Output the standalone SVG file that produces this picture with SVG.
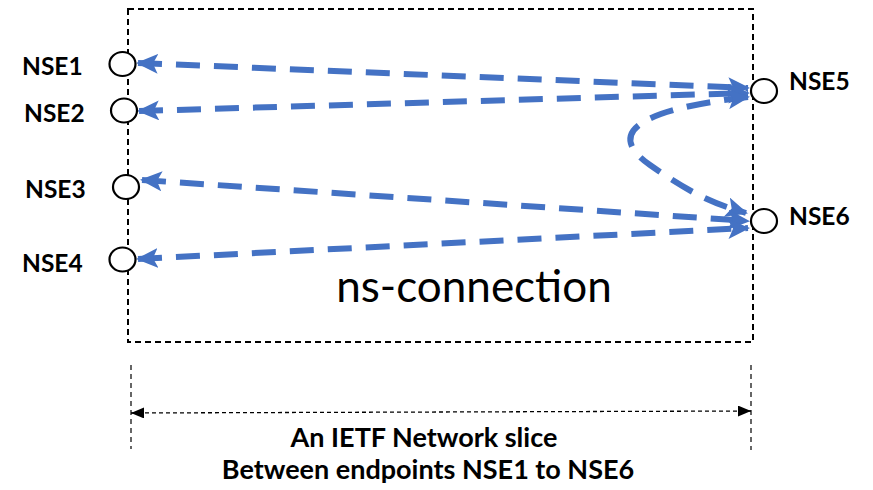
<svg xmlns="http://www.w3.org/2000/svg" width="873" height="490" viewBox="0 0 873 490">
<style>
.lbl{font-family:Lato,"Liberation Sans",sans-serif;font-weight:bold;font-size:24.5px;fill:#000}
.cap{font-family:Lato,"Liberation Sans",sans-serif;font-weight:bold;font-size:27px;fill:#000}
.ep{fill:#fff;stroke:#000;stroke-width:2.2}
.blue{fill:none;stroke:#4472C4;stroke-width:6;stroke-dasharray:24 14;marker-start:url(#ba);marker-end:url(#ba)}
</style>
<defs>
<marker id="ba" viewBox="0 0 22 20" refX="20" refY="10" markerWidth="22" markerHeight="20" markerUnits="userSpaceOnUse" orient="auto-start-reverse">
<path d="M0,0 L22,10 L0,20 L5,10 z" fill="#4472C4"/>
</marker>
<marker id="ka" viewBox="0 0 13 11" refX="13" refY="5.5" markerWidth="13" markerHeight="11" markerUnits="userSpaceOnUse" orient="auto-start-reverse">
<path d="M0,0 L13,5.5 L0,11 z" fill="#000"/>
</marker>
</defs>
<rect x="128" y="9" width="625" height="333" fill="none" stroke="#000" stroke-width="2" stroke-dasharray="6 4"/>
<text x="474" y="302" text-anchor="middle" font-family="Lato,'Liberation Sans',sans-serif" font-size="44" fill="#000">ns-connection</text>
<g id="connectors">
<path class="blue" d="M138,63 L748,88"/>
<path class="blue" d="M139,111 L748,93"/>
<path class="blue" d="M748,97 C650,108 600,130 650,165 S720,205 746,213"/>
<path class="blue" d="M142,180 L748,221"/>
<path class="blue" d="M138,259 L748,228"/>
</g>
<g id="NSE1"><ellipse class="ep" cx="122.5" cy="64" rx="13" ry="12"/><text class="lbl" x="22" y="75">NSE1</text></g>
<g id="NSE2"><ellipse class="ep" cx="124" cy="110.5" rx="13" ry="12"/><text class="lbl" x="24" y="122">NSE2</text></g>
<g id="NSE3"><ellipse class="ep" cx="126" cy="187" rx="13" ry="12"/><text class="lbl" x="25" y="198">NSE3</text></g>
<g id="NSE4"><ellipse class="ep" cx="122.5" cy="259.5" rx="13" ry="12"/><text class="lbl" x="22" y="272">NSE4</text></g>
<g id="NSE5"><ellipse class="ep" cx="764" cy="91" rx="13" ry="12"/><text class="lbl" x="789" y="90">NSE5</text></g>
<g id="NSE6"><ellipse class="ep" cx="764" cy="221" rx="13" ry="12"/><text class="lbl" x="789" y="225">NSE6</text></g>
<g id="dimension">
<line x1="131" y1="365" x2="131" y2="449" stroke="#000" stroke-width="1.2" stroke-dasharray="5 4"/>
<line x1="751" y1="365" x2="751" y2="450" stroke="#000" stroke-width="1.2" stroke-dasharray="5 4"/>
<line x1="131" y1="413" x2="751" y2="411" stroke="#000" stroke-width="1.3" stroke-dasharray="4 3" marker-start="url(#ka)" marker-end="url(#ka)"/>
<text class="cap" x="424" y="447" text-anchor="middle">An IETF Network slice</text>
<text class="cap" x="428" y="479" text-anchor="middle">Between endpoints NSE1 to NSE6</text>
</g>
</svg>
